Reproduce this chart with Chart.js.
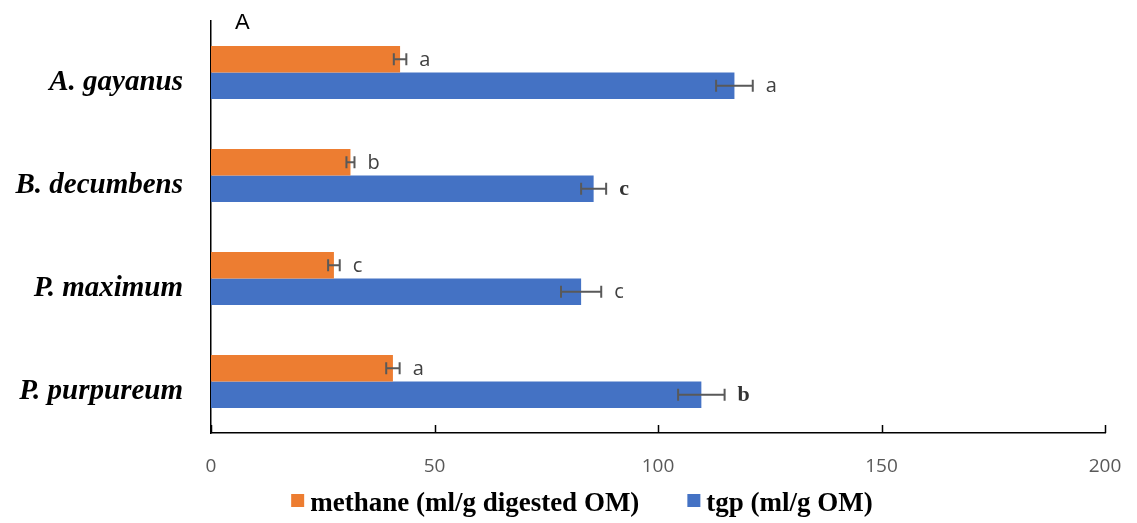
<!DOCTYPE html>
<html>
<head>
<meta charset="utf-8">
<script src="https://cdn.jsdelivr.net/npm/chart.js@4.4.1/dist/chart.umd.min.js"></script>
<style>
  html, body { margin: 0; padding: 0; background: #ffffff; }
  #wrap { width: 1137px; height: 523px; }
</style>
</head>
<body>
<div id="wrap"><canvas id="c" width="1137" height="523"></canvas></div>
<script>
// Forage species and measured gas production
const species = ['A. gayanus', 'B. decumbens', 'P. maximum', 'P. purpureum'];
const methane = [42.3, 31.2, 27.5, 40.7];
const methaneErr = [1.4, 0.9, 1.3, 1.5];
const methaneLetters = ['a', 'b', 'c', 'a'];
const tgp = [117.1, 85.6, 82.8, 109.7];
const tgpErr = [4.1, 2.8, 4.5, 5.2];
const tgpLetters = ['a', 'c', 'c', 'b'];
const xTicks = [0, 50, 100, 150, 200];
const panelLabel = 'A';

const ORANGE = '#ED7D31';
const BLUE = '#4472C4';
const ERR_COLOR = '#595959';

// letters printed in bold serif instead of the plain sans face
const serifLetters = { 1: [1, 3] };

const annotate = {
  id: 'annotate',
  afterDatasetsDraw(chart) {
    const ctx = chart.ctx;
    const xs = chart.scales.x;
    chart.data.datasets.forEach((ds, di) => {
      const meta = chart.getDatasetMeta(di);
      meta.data.forEach((bar, i) => {
        const v = ds.data[i], e = ds.errors[i];
        const x0 = xs.getPixelForValue(v - e);
        const x1 = xs.getPixelForValue(v + e);
        const y = bar.y;
        ctx.save();
        ctx.strokeStyle = ERR_COLOR;
        ctx.lineWidth = 2;
        ctx.beginPath();
        ctx.moveTo(x0, y); ctx.lineTo(x1, y);
        ctx.moveTo(x0, y - 6); ctx.lineTo(x0, y + 6);
        ctx.moveTo(x1, y - 6); ctx.lineTo(x1, y + 6);
        ctx.stroke();
        const serif = (serifLetters[di] || []).includes(i);
        ctx.textBaseline = 'middle';
        ctx.textAlign = 'left';
        if (serif) {
          ctx.font = 'bold 22px "Liberation Serif"';
          ctx.fillStyle = '#333333';
        } else {
          ctx.font = '20px "Open Sans"';
          ctx.fillStyle = '#404040';
        }
        ctx.fillText(ds.letters[i], x1 + 13, y + 1);
        ctx.restore();
      });
    });
  },
  afterDraw(chart) {
    const ctx = chart.ctx;
    const area = chart.chartArea;
    const xs = chart.scales.x;
    ctx.save();
    // inward tick marks on the value axis
    ctx.strokeStyle = '#000000';
    ctx.lineWidth = 1.5;
    ctx.beginPath();
    xTicks.forEach(v => {
      const px = Math.round(xs.getPixelForValue(v)) + 0.5;
      ctx.moveTo(px, area.bottom - 8);
      ctx.lineTo(px, area.bottom);
    });
    ctx.stroke();

    // panel label
    ctx.fillStyle = '#000000';
    ctx.font = '22px "Liberation Sans"';
    ctx.textBaseline = 'alphabetic';
    ctx.textAlign = 'left';
    ctx.fillText(panelLabel, area.left + 24, 29);

    // legend
    ctx.font = 'bold 27px "Liberation Serif"';
    const items = chart.data.datasets.map(d => ({ text: d.label, color: d.backgroundColor, w: ctx.measureText(d.label).width }));
    const box = 13, gapText = 6, gapItem = 48;
    let total = 0;
    items.forEach((it, k) => { total += box + gapText + it.w + (k ? gapItem : 0); });
    let x = 582 - total / 2;
    const baseY = 511;
    items.forEach((it, k) => {
      if (k) x += gapItem;
      ctx.fillStyle = it.color;
      ctx.fillRect(x, 494, box, box);
      x += box + gapText;
      ctx.fillStyle = '#000000';
      ctx.fillText(it.text, x, baseY);
      x += it.w;
    });
    ctx.restore();
  }
};

new Chart(document.getElementById('c'), {
  type: 'bar',
  data: {
    labels: species,
    datasets: [
      {
        label: 'methane (ml/g digested OM)',
        data: methane,
        errors: methaneErr,
        letters: methaneLetters,
        backgroundColor: ORANGE,
        categoryPercentage: 0.515,
        barPercentage: 1.0
      },
      {
        label: 'tgp (ml/g OM)',
        data: tgp,
        errors: tgpErr,
        letters: tgpLetters,
        backgroundColor: BLUE,
        categoryPercentage: 0.515,
        barPercentage: 1.0
      }
    ]
  },
  options: {
    indexAxis: 'y',
    responsive: false,
    devicePixelRatio: 1,
    animation: false,
    layout: { padding: { top: 21, right: 32, bottom: 43, left: 0 } },
    plugins: {
      legend: { display: false },
      tooltip: { enabled: false },
      title: { display: false }
    },
    scales: {
      x: {
        min: 0,
        max: 200,
        afterBuildTicks: s => { s.ticks = xTicks.map(v => ({ value: v })); },
        afterFit: s => {
          s.height = 47;
          s.paddingLeft = 0; s.paddingRight = 0;
        },
        ticks: {
          color: '#595959',
          font: { family: '"Open Sans"', size: 19 },
          padding: 22
        },
        grid: { display: false, drawTicks: false },
        border: { display: true, color: '#000000', width: 1.5 }
      },
      y: {
        afterFit: s => {
          s.width = 211;
          s.paddingTop = 0; s.paddingBottom = 0;
        },
        ticks: {
          color: '#000000',
          font: { family: '"Liberation Serif"', size: 29, style: 'italic', weight: 'bold' },
          padding: 28,
          labelOffset: 10
        },
        grid: { display: false, drawTicks: false },
        border: { display: true, color: '#000000', width: 1.5 }
      }
    }
  },
  plugins: [annotate]
});
</script>
</body>
</html>
